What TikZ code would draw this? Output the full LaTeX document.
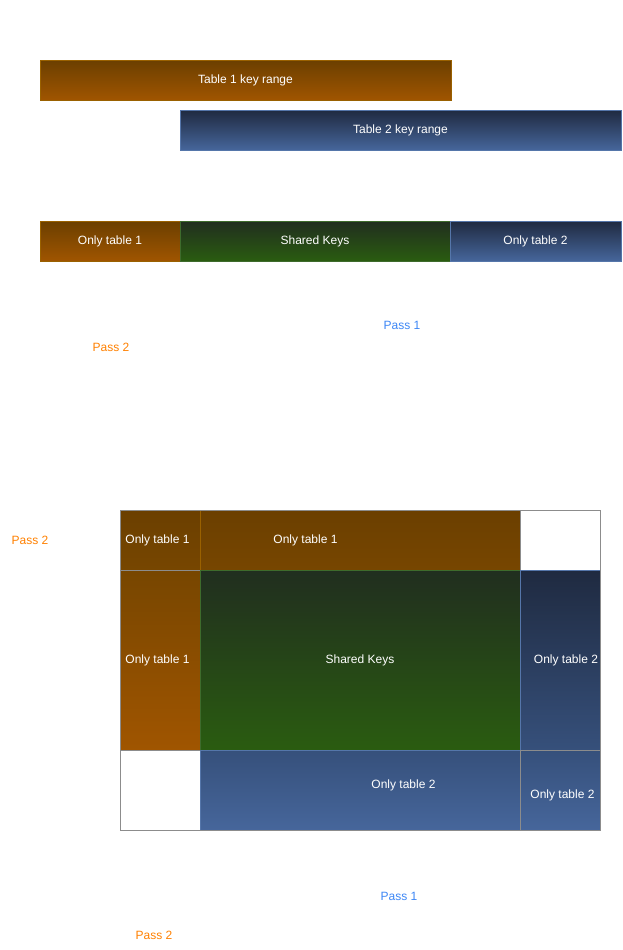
\documentclass[tikz,border=0pt]{standalone}
\usepackage{fontspec}
\setmainfont{Liberation Sans}

\definecolor{ornTop}{HTML}{6B3F00}
\definecolor{ornMid}{HTML}{774600}
\definecolor{ornBot}{HTML}{A05500}
\definecolor{ornLine}{HTML}{9A6100}
\definecolor{bluTop}{HTML}{1F2A40}
\definecolor{bluMid}{HTML}{36507B}
\definecolor{bluBot}{HTML}{46669B}
\definecolor{bluLine}{HTML}{5576AA}
\definecolor{grnTop}{HTML}{212E1F}
\definecolor{grnBot}{HTML}{2A5C10}
\definecolor{grnLine}{HTML}{3E6B2C}
\definecolor{gridLine}{HTML}{8C8C8C}
\definecolor{passBlue}{HTML}{3C86F5}
\definecolor{passOrange}{HTML}{FF8000}

\tikzset{
  keybox/.style={anchor=north west, inner sep=0pt, outer sep=0pt, line width=0.75pt,
    text=white, font=\fontsize{9}{11}\selectfont},
  tabone/.style={keybox, top color=ornTop, bottom color=ornBot, draw=ornLine},
  tabtwo/.style={keybox, top color=bluTop, bottom color=bluBot, draw=bluLine},
  sharedbox/.style={keybox, top color=grnTop, bottom color=grnBot, draw=grnLine},
  emptycell/.style={keybox, fill=white, draw=gridLine},
  celltext/.style={inner sep=0.75pt, text=white, font=\fontsize{9}{11}\selectfont},
  passone/.style={inner sep=0.75pt, text=passBlue, font=\fontsize{9}{11}\selectfont},
  passtwo/.style={inner sep=0.75pt, text=passOrange, font=\fontsize{9}{11}\selectfont},
}

\begin{document}
\begin{tikzpicture}[x=0.75pt,y=0.75pt,yscale=-1,xscale=1]
\useasboundingbox (0,0) rectangle (623,950);

%Shape: Rectangle [key ranges]
\node[tabone, minimum width=308.25pt, minimum height=30pt] (range1) at (40,60) {Table 1 key range};
\node[tabtwo, minimum width=330.75pt, minimum height=30pt] (range2) at (180,110) {Table 2 key range};

%Shape: Rectangle [split row]
\node[tabone, minimum width=105pt, minimum height=30pt] (only1) at (40,221) {Only table 1};
\node[sharedbox, minimum width=202.5pt, minimum height=30pt] (sharedrow) at (180,221) {Shared Keys};
\node[tabtwo, minimum width=128.25pt, minimum height=30pt] (only2) at (450,221) {Only table 2};

% Text Node
\node[passone] (passA) at (402,325) {Pass 1};
% Text Node
\node[passtwo] (passB) at (111,347) {Pass 2};

%Shape: Rectangle [grid, top row]
\node[tabone, top color=ornTop, bottom color=ornMid, draw=gridLine, minimum width=60pt, minimum height=45pt] (gTL) at (120,510) {};
\node[tabone, top color=ornTop, bottom color=ornMid, minimum width=240pt, minimum height=45pt] (gTM) at (200,510) {};
\node[emptycell, minimum width=60pt, minimum height=45pt] (gTR) at (520,510) {};

%Shape: Rectangle [grid, middle row]
\node[tabone, top color=ornMid, draw=gridLine, minimum width=60pt, minimum height=135pt] (gML) at (120,570) {};
\node[sharedbox, minimum width=240pt, minimum height=135pt] (gMM) at (200,570) {};
\node[tabtwo, bottom color=bluMid, minimum width=60pt, minimum height=135pt] (gMR) at (520,570) {};

%Shape: Rectangle [grid, bottom row]
\node[emptycell, minimum width=60pt, minimum height=60pt] (gBL) at (120,750) {};
\node[tabtwo, top color=bluMid, minimum width=240pt, minimum height=60pt] (gBM) at (200,750) {};
\node[tabtwo, top color=bluMid, draw=gridLine, minimum width=60pt, minimum height=60pt] (gBR) at (520,750) {};

%Shape: Rectangle [grid frame]
\draw[gridLine, line width=0.75pt] (gTL.north west) rectangle (gBR.south east);

% Text Node
\node[celltext] at (157.5,540) {Only table 1};
% Text Node
\node[celltext] at (305.5,540) {Only table 1};
% Text Node
\node[celltext] at (157.5,660) {Only table 1};
% Text Node
\node[celltext] at (360,660) {Shared Keys};
% Text Node
\node[celltext] at (566,660) {Only table 2};
% Text Node
\node[celltext] at (403.5,785) {Only table 2};
% Text Node
\node[celltext] at (562.5,795) {Only table 2};

% Text Node
\node[passtwo] (passC) at (30,540) {Pass 2};
% Text Node
\node[passone] (passD) at (399,896) {Pass 1};
% Text Node
\node[passtwo] (passE) at (154,935) {Pass 2};

\end{tikzpicture}
\end{document}
